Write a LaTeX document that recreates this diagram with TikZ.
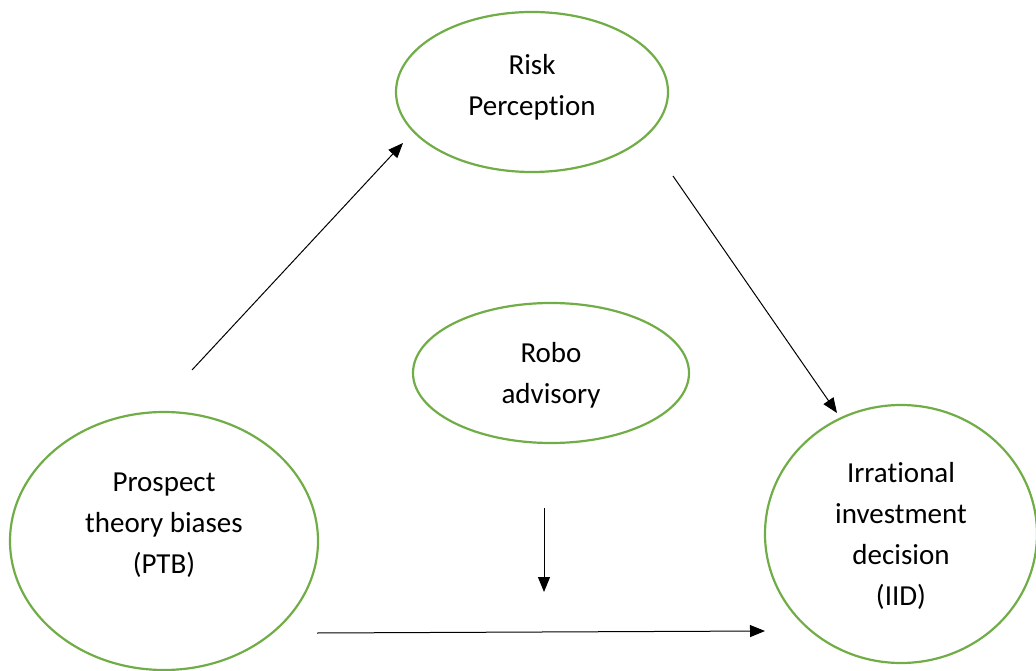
\documentclass[tikz,border=0pt]{standalone}
\usepackage{fontspec}
\setmainfont{Carlito}[Ligatures={NoCommon}]
\usepackage{xcolor}
\usetikzlibrary{arrows.meta,shapes.geometric}
\definecolor{offgreen}{HTML}{70AD47}
\tikzset{bubble/.style={ellipse, draw=offgreen, line width=2.2pt, inner sep=0pt}}
\tikzset{txt/.style={align=center, font=\fontsize{29}{41}\selectfont}}
\tikzset{arr/.style={-{Triangle[length=15pt,width=12pt]}, line width=1pt}}

\begin{document}
\begin{tikzpicture}[x=1pt,y=-1pt]
    \useasboundingbox (0,0) rectangle (1036,671);

    \node[bubble, minimum width=272pt, minimum height=160pt] at (532,92) (risk){};
    \node[bubble, minimum width=276pt, minimum height=140pt] at (551,373) (robo){};
    \node[bubble, minimum width=308pt, minimum height=258pt] at (164,541) (ptb){};
    \node[bubble, minimum width=272pt, minimum height=258pt] at (901,534) (iid){};

    \node[txt] at ([yshift=5pt]risk.center) (risktext){Risk\\Perception};
    \node[txt] at ([yshift=-2pt]robo.center) (robotext){Robo\\advisory};
    \node[txt] at ([yshift=16pt]ptb.center) (ptbtext){Prospect\\theory biases\\(PTB)};
    \node[txt] at ([yshift=-2pt]iid.center) (iidtext){Irrational\\investment\\decision\\(IID)};

    \coordinate (ptbout) at (192,370);
    \coordinate (riskin) at (403,143);
    \coordinate (riskout) at (673,176);
    \coordinate (iidin) at (837,413);
    \coordinate (roboout) at (544,508);
    \coordinate (modpt) at (544,592);
    \coordinate (ptbdir) at (317,633);
    \coordinate (iiddir) at (765,631);

    \draw [arr] (ptbout) -- (riskin);
    \draw [arr] (riskout) -- (iidin);
    \draw [arr] (roboout) -- (modpt);
    \draw [arr] (ptbdir) -- (iiddir);
  \end{tikzpicture}
\end{document}
